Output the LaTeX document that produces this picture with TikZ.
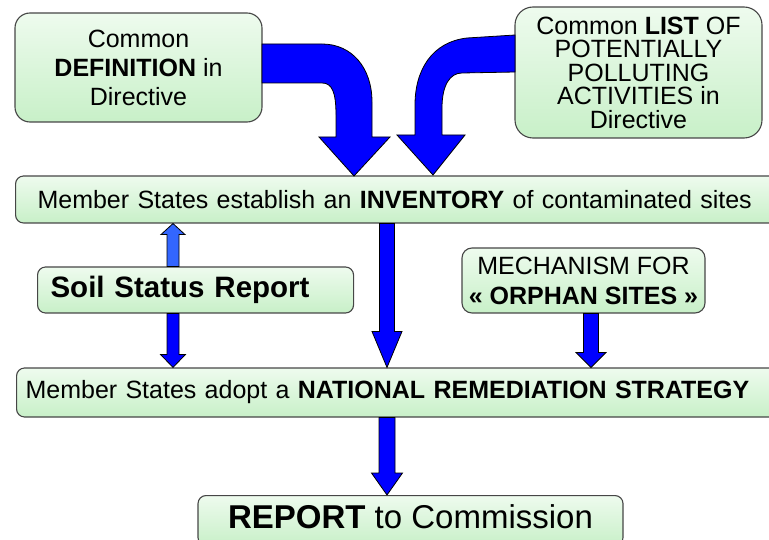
\documentclass[tikz,border=0pt]{standalone}
\usepackage{fontspec}
\setmainfont{Liberation Sans}
\usetikzlibrary{calc}
\definecolor{arrblue}{RGB}{0,0,255}
\definecolor{arrlight}{RGB}{51,102,255}
\definecolor{boxtop}{RGB}{238,251,238}
\definecolor{boxbot}{RGB}{200,240,200}
\definecolor{boxline}{RGB}{70,70,70}
\newcommand{\vblockarrow}[6]{%
  \path (#1) coordinate (va-s) (#2) coordinate (va-t) ($(va-t)!#5!(va-s)$) coordinate (va-h);
  \filldraw[barrow, fill=#6] ($(va-s)+(-#3,0)$) -- ($(va-h)+(-#3,0)$) -- ($(va-h)+(-#4,0)$) -- (va-t) -- ($(va-h)+(#4,0)$) -- ($(va-h)+(#3,0)$) -- ($(va-s)+(#3,0)$) -- cycle;}
\begin{document}
\begin{tikzpicture}[x=1pt,y=-1pt,
  gbox/.style={draw=boxline, line width=1.1pt, top color=boxtop, bottom color=boxbot, rounded corners=8pt, inner sep=0pt, align=center},
  barrow/.style={fill=arrblue, draw=black, line width=0.8pt, line join=miter}]
\useasboundingbox (0,0) rectangle (769,540);
% boxes
\node[gbox, rounded corners=15pt, minimum width=247pt, minimum height=109pt, font=\fontsize{25}{29}\selectfont] (def) at (138.5,67.5) {Common\\\textbf{DEFINITION} in\\Directive};
\node[gbox, rounded corners=18pt, minimum width=247pt, minimum height=131pt, font=\fontsize{25}{23.5}\selectfont] (list) at (638.5,72.5) {Common \textbf{LIST} OF\\POTENTIALLY\\POLLUTING\\ACTIVITIES in\\Directive};
\node[gbox, anchor=west, text width=740pt, align=left, inner xsep=22pt, minimum height=47pt, font=\fontsize{25}{30}\selectfont] (inv) at (15,199.5) {Member States establish an \textbf{INVENTORY} of contaminated sites};
\node[gbox, anchor=west, text width=290pt, align=left, inner xsep=13pt, minimum height=46pt, font=\fontsize{29.5}{34}\selectfont\bfseries] (soil) at (37,290) {Soil Status Report};
\node[gbox, rounded corners=10pt, minimum width=243pt, minimum height=65pt, font=\fontsize{25}{30}\selectfont] (mech) at (583.5,280.5) {MECHANISM FOR\\\textbf{« ORPHAN SITES »}};
\node[gbox, anchor=west, text width=750pt, align=left, inner xsep=9pt, minimum height=49pt, font=\fontsize{25}{30}\selectfont] (nat) at (16,392.5) {Member States adopt a \textbf{NATIONAL REMEDIATION STRATEGY}};
\node[gbox, anchor=north, minimum width=425pt, text height=33pt, text depth=17pt, inner ysep=0pt, font=\fontsize{33}{38}\selectfont] (rep) at (410.5,495) {\textbf{REPORT} to Commission};
% curved arrows
\coordinate (c1s) at (262,44);
\coordinate (c1t) at (354,176);
\filldraw[barrow] (c1s) -- (322,44) .. controls (352,44) and (372,68) .. (372,102) -- (372,137) -- (390,137) -- (c1t) -- (319,137) -- (336,137) -- (336,115) .. controls (336,92) and (332,83) .. (322,83) -- (262,83) -- cycle;
\coordinate (c2s) at (515,35);
\coordinate (c2t) at (433,175);
\filldraw[barrow] (c2s) -- (467,38) .. controls (432,42) and (415,70) .. (415,105) -- (415,135) -- (397,135) -- (c2t) -- (465,135) -- (442,135) -- (442,108) .. controls (442,85) and (450,73) .. (462,73) -- (515,72) -- cycle;
% straight block arrows
\coordinate (xa) at (173,0);
\coordinate (xb) at (387,0);
\coordinate (xc) at (591,0);
\vblockarrow{xa |- soil.north}{xa |- inv.south}{6}{12}{11pt}{arrlight}
\vblockarrow{xa |- soil.south}{xa |- nat.north}{6}{12.5}{13pt}{arrblue}
\vblockarrow{xb |- inv.south}{xb |- nat.north}{7.5}{15}{36pt}{arrblue}
\vblockarrow{xc |- mech.south}{xc |- nat.north}{7.5}{15}{15pt}{arrblue}
\vblockarrow{xb |- nat.south}{xb |- rep.north}{8}{15.5}{22pt}{arrblue}
\end{tikzpicture}
\end{document}
